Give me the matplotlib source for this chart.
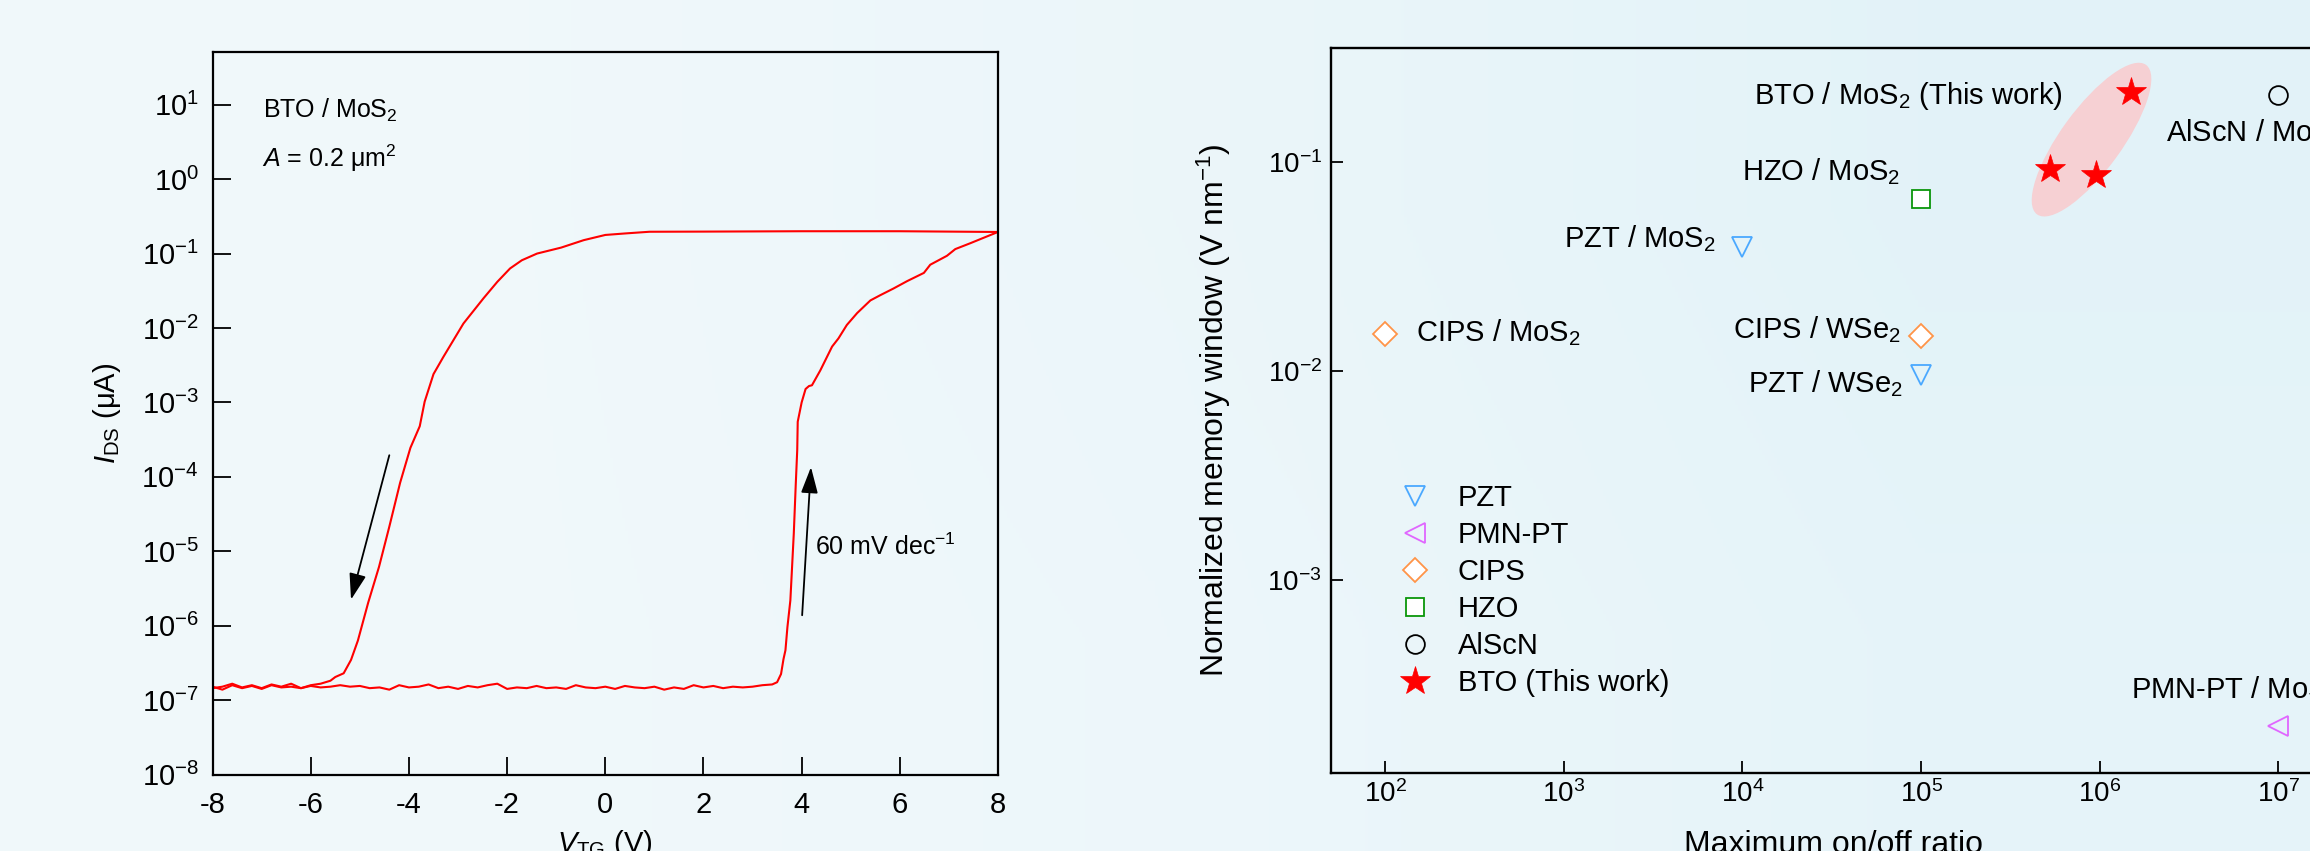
import numpy as np
import matplotlib
matplotlib.use('Agg')
import matplotlib.pyplot as plt
from matplotlib.lines import Line2D
from matplotlib.patches import Ellipse
from matplotlib import transforms
from matplotlib.ticker import FixedLocator, FixedFormatter, NullLocator

plt.rcParams['font.family'] = ['Liberation Sans', 'DejaVu Sans']
plt.rcParams['mathtext.fontset'] = 'custom'
plt.rcParams['mathtext.rm'] = 'Liberation Sans'
plt.rcParams['mathtext.it'] = 'Liberation Sans:italic'
plt.rcParams['mathtext.bf'] = 'Liberation Sans:bold'
plt.rcParams['mathtext.sf'] = 'Liberation Sans'
plt.rcParams['axes.unicode_minus'] = False

# ---------------- data: left panel (transfer curve) ----------------
# forward sweep  (-8 V -> +8 V)
fwd_v = [-8.0, -7.8, -7.6, -7.4, -7.2, -7.0, -6.8, -6.6, -6.4, -6.2,
         -6.0, -5.8, -5.6, -5.4, -5.2, -5.0, -4.8, -4.6, -4.4, -4.2,
         -4.0, -3.8, -3.6, -3.4, -3.2, -3.0, -2.8, -2.6, -2.4, -2.2,
         -2.0, -1.8, -1.6, -1.4, -1.2, -1.0, -0.8, -0.6, -0.4, -0.2,
         0.0, 0.2, 0.4, 0.6, 0.8, 1.0, 1.2, 1.4, 1.6, 1.8,
         2.0, 2.2, 2.4, 2.6, 2.8, 3.0, 3.2, 3.4,
         3.50, 3.58, 3.63, 3.67, 3.71, 3.77, 3.84, 3.88, 3.91, 3.92,
         4.00, 4.08, 4.15, 4.21, 4.38, 4.62, 4.75, 4.92, 5.13, 5.40,
         5.60, 5.87, 6.15, 6.49, 6.62, 6.96, 7.13, 7.44, 7.70, 8.00]
fwd_log_i = [-6.82, -6.86, -6.80, -6.84, -6.81, -6.85, -6.80, -6.83, -6.82, -6.84,
             -6.81, -6.83, -6.82, -6.80, -6.82, -6.81, -6.84, -6.83, -6.86, -6.80,
             -6.83, -6.82, -6.79, -6.84, -6.82, -6.85, -6.81, -6.83, -6.80, -6.78,
             -6.85, -6.83, -6.84, -6.81, -6.84, -6.83, -6.85, -6.80, -6.83, -6.84,
             -6.82, -6.85, -6.81, -6.83, -6.84, -6.82, -6.86, -6.83, -6.85, -6.80,
             -6.83, -6.81, -6.84, -6.82, -6.83, -6.82, -6.80, -6.79,
             -6.76, -6.65, -6.45, -6.33, -6.02, -5.66, -4.76, -4.10, -3.64, -3.26,
             -3.00, -2.82, -2.78, -2.77, -2.57, -2.25, -2.14, -1.96, -1.80, -1.63,
             -1.56, -1.47, -1.37, -1.26, -1.15, -1.03, -0.94, -0.86, -0.79, -0.71]
# backward sweep (+8 V -> -8 V)
bwd_v = [8.0, 6.0, 4.0, 2.0, 0.9, 0.4, 0.0, -0.44, -0.9, -1.39,
         -1.7, -1.94, -2.2, -2.48, -2.89, -3.30, -3.50, -3.68, -3.78, -3.97,
         -4.18, -4.40, -4.61, -4.83, -5.04, -5.18, -5.33, -5.5, -5.6, -5.8,
         -6.0, -6.2, -6.4, -6.6, -6.8, -7.0, -7.2, -7.4, -7.6, -7.8, -8.0]
bwd_log_i = [-0.71, -0.70, -0.70, -0.705, -0.707, -0.73, -0.75, -0.82, -0.92, -1.00,
             -1.09, -1.20, -1.38, -1.60, -1.94, -2.39, -2.62, -2.99, -3.32, -3.61,
             -4.08, -4.67, -5.21, -5.69, -6.20, -6.46, -6.64, -6.69, -6.74, -6.78,
             -6.80, -6.84, -6.78, -6.82, -6.79, -6.84, -6.80, -6.83, -6.78, -6.82, -6.84]

left_yticks = [1e-8, 1e-7, 1e-6, 1e-5, 1e-4, 1e-3, 1e-2, 1e-1, 1e0, 1e1]
left_ytick_labels = ['$10^{-8}$', '$10^{-7}$', '$10^{-6}$', '$10^{-5}$', '$10^{-4}$',
                     '$10^{-3}$', '$10^{-2}$', '$10^{-1}$', '$10^{0}$', '$10^{1}$']
left_xticks = [-8, -6, -4, -2, 0, 2, 4, 6, 8]

# ---------------- data: right panel (benchmark) ----------------
materials = ['PZT', 'PMN-PT', 'CIPS', 'HZO', 'AlScN', 'BTO (This work)']
pzt_ratio = [1e4, 1e5]
pzt_mw = [0.039, 0.0096]
pmnpt_ratio = [1e7]
pmnpt_mw = [2.0e-4]
cips_ratio = [1e2, 1e5]
cips_mw = [0.015, 0.0146]
hzo_ratio = [1e5]
hzo_mw = [0.0666]
alscn_ratio = [1e7]
alscn_mw = [0.208]
bto_ratio = [1.5e6, 5.25e5, 9.5e5]
bto_mw = [0.215, 0.092, 0.0866]

point_labels = ['BTO / MoS$_2$ (This work)', 'AlScN / MoS$_2$', 'HZO / MoS$_2$',
                'PZT / MoS$_2$', 'CIPS / MoS$_2$', 'CIPS / WSe$_2$', 'PZT / WSe$_2$',
                'PMN-PT / MoS$_2$']
right_xticks = [1e2, 1e3, 1e4, 1e5, 1e6, 1e7]
right_xtick_labels = ['$10^{2}$', '$10^{3}$', '$10^{4}$', '$10^{5}$', '$10^{6}$', '$10^{7}$']
right_yticks = [1e-3, 1e-2, 1e-1]
right_ytick_labels = ['$10^{-3}$', '$10^{-2}$', '$10^{-1}$']

# ---------------- layout / styles ----------------
W, H = 2310, 851
fig = plt.figure(figsize=(W / 100, H / 100), dpi=100)

# light blue gradient background
bg = fig.add_axes([0, 0, 1, 1], zorder=-10)
grad = np.array([[[0.945, 0.975, 0.984], [0.925, 0.965, 0.980], [0.890, 0.952, 0.975]],
                 [[0.945, 0.975, 0.984], [0.930, 0.968, 0.982], [0.900, 0.956, 0.977]]])
bg.imshow(grad, extent=[0, 1, 0, 1], aspect='auto', interpolation='bilinear')
bg.axis('off')

red = '#ff0000'

# ===== left panel =====
ax1 = fig.add_axes([212.6 / W, 1 - 774.5 / H, (998 - 212.6) / W, (774.5 - 52.1) / H])
ax1.set_facecolor('none')
ax1.set_yscale('log')
ax1.plot(fwd_v, 10 ** np.array(fwd_log_i), color=red, lw=1.5)
ax1.plot(bwd_v, 10 ** np.array(bwd_log_i), color=red, lw=1.5)
ax1.set_xlim(-8, 8)
ax1.set_ylim(1e-8, 10 ** 1.707)
ax1.yaxis.set_major_locator(FixedLocator(left_yticks))
ax1.yaxis.set_major_formatter(FixedFormatter(left_ytick_labels))
ax1.yaxis.set_minor_locator(NullLocator())
ax1.xaxis.set_major_locator(FixedLocator(left_xticks))
ax1.tick_params(axis='both', direction='in', length=13, width=1.3, labelsize=21)
ax1.tick_params(axis='y', pad=10)
ax1.tick_params(axis='x', pad=12)
for s in ax1.spines.values():
    s.set_linewidth(1.6)
ax1.set_xlabel(r'$V_{\mathrm{TG}}$ (V)', fontsize=21)
ax1.set_ylabel(r'$I_{\mathrm{DS}}$ (μA)', fontsize=21)
ax1.xaxis.set_label_coords(0.5, -0.074)
ax1.yaxis.set_label_coords(-0.114, 0.5)

ax1.text(0.0638, 0.9097, 'BTO / MoS$_2$', transform=ax1.transAxes, fontsize=18,
         va='baseline', ha='left')
ax1.text(0.0626, 0.8414, '$A$ = 0.2 μm$^2$', transform=ax1.transAxes, fontsize=18,
         va='baseline', ha='left')
ax1.text(0.7674, 0.3039, '60 mV dec$^{-1}$', transform=ax1.transAxes, fontsize=18,
         va='baseline', ha='left')
arrow_kw = dict(arrowstyle='-|>,head_length=0.4,head_width=0.13', mutation_scale=40,
                lw=1.3, color='black', shrinkA=0, shrinkB=0)
ax1.annotate('', xy=(-5.18, 10 ** -5.65), xytext=(-4.40, 10 ** -3.71), arrowprops=arrow_kw)
ax1.annotate('', xy=(4.19, 10 ** -3.87), xytext=(4.01, 10 ** -5.86), arrowprops=arrow_kw)

# ===== right panel =====
xlo, xhi = 10 ** 1.696, 10 ** 8.0
px_per_dec = 178.6
ax2_w = (8.0 - 1.696) * px_per_dec
ax2 = fig.add_axes([1331 / W, 1 - 773.4 / H, ax2_w / W, (773.4 - 47.8) / H])
ax2.set_facecolor('none')
ax2.set_xscale('log')
ax2.set_yscale('log')
ax2.set_xlim(xlo, xhi)
ax2.set_ylim(10 ** -3.924, 10 ** -0.456)

c_pzt = '#4aa8ff'
c_pmn = '#e066ff'
c_cips = '#ff9448'
c_hzo = '#0a960a'
c_alscn = '#000000'

# ellipse highlighting this work (defined in inches around a data-space centre)
etrans = fig.dpi_scale_trans + transforms.ScaledTranslation(9.0e5, 0.1274, ax2.transData)
ax2.add_patch(Ellipse((0, 0), 1.85, 0.61, angle=53.9, transform=etrans,
                      facecolor='#f6d0d3', edgecolor='none', zorder=1))

mk = dict(ls='none', mew=1.3, zorder=3)
ax2.plot(pzt_ratio, pzt_mw, marker='v', ms=15, mfc='none', mec=c_pzt, **mk)
ax2.plot(pmnpt_ratio, pmnpt_mw, marker='<', ms=15, mfc='none', mec=c_pmn, **mk)
ax2.plot(cips_ratio, cips_mw, marker='D', ms=12.5, mfc='white', mec=c_cips, **mk)
ax2.plot(hzo_ratio, hzo_mw, marker='s', ms=12.5, mfc='white', mec=c_hzo, **mk)
ax2.plot(alscn_ratio, alscn_mw, marker='o', ms=13.5, mfc='none', mec=c_alscn, **mk)
ax2.plot(bto_ratio, bto_mw, marker='*', ms=22, mfc=red, mec=red, mew=0.5, ls='none', zorder=4)

label_pos = [(6.19e5, 0.189, 'right'), (2.34e6, 0.1247, 'left'), (9.93e3, 0.0818, 'left'),
             (9.95e2, 0.039, 'left'), (1.49e2, 0.0139, 'left'), (8.85e3, 0.0144, 'left'),
             (1.07e4, 0.00794, 'left'), (1.5e6, 2.72e-4, 'left')]
for txt, (lx, ly, ha) in zip(point_labels, label_pos):
    ax2.text(lx, ly, txt, fontsize=21, ha=ha, va='baseline', zorder=5)

ax2.xaxis.set_major_locator(FixedLocator(right_xticks))
ax2.xaxis.set_major_formatter(FixedFormatter(right_xtick_labels))
ax2.yaxis.set_major_locator(FixedLocator(right_yticks))
ax2.yaxis.set_major_formatter(FixedFormatter(right_ytick_labels))
ax2.xaxis.set_minor_locator(NullLocator())
ax2.yaxis.set_minor_locator(NullLocator())
ax2.tick_params(axis='both', direction='in', length=8.6, width=1.3, labelsize=20)
ax2.tick_params(axis='y', pad=6.5)
ax2.tick_params(axis='x', pad=5)
for s in ax2.spines.values():
    s.set_linewidth(1.7)
ax2.set_xlabel('Maximum on/off ratio', fontsize=23)
ax2.set_ylabel('Normalized memory window (V nm$^{-1}$)', fontsize=23)
ax2.xaxis.set_label_coords((1834 - 1331) / ax2_w, -0.078)
ax2.yaxis.set_label_coords((1233 - 1331) / ax2_w, 0.5)

handles = [
    Line2D([], [], ls='none', marker='v', ms=15, mfc='none', mec=c_pzt, mew=1.3),
    Line2D([], [], ls='none', marker='<', ms=15, mfc='none', mec=c_pmn, mew=1.3),
    Line2D([], [], ls='none', marker='D', ms=12.5, mfc='white', mec=c_cips, mew=1.3),
    Line2D([], [], ls='none', marker='s', ms=12.5, mfc='white', mec=c_hzo, mew=1.3),
    Line2D([], [], ls='none', marker='o', ms=13.5, mfc='none', mec=c_alscn, mew=1.3),
    Line2D([], [], ls='none', marker='*', ms=22, mfc=red, mec=red, mew=0.5),
]
ax2.legend(handles, materials, loc='upper left',
           bbox_to_anchor=((1400.4 - 1331) / ax2_w, 1 - (484.1 - 47.8) / 725.6),
           frameon=False, fontsize=21, borderaxespad=0, borderpad=0,
           handlelength=1.0, handletextpad=0.97, labelspacing=0.31)

fig.savefig('out.png', dpi=100)
